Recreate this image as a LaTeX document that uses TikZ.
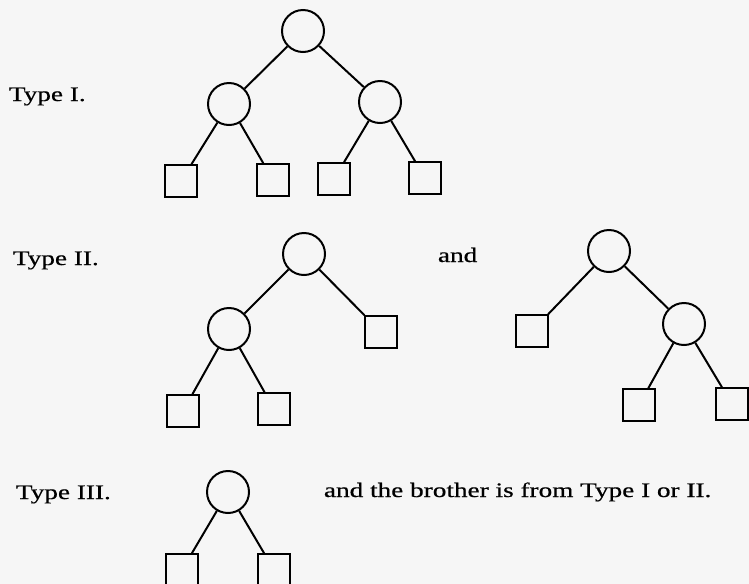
\documentclass[tikz,border=0pt]{standalone}
\usepackage{fontspec}
\setmainfont{Liberation Serif}[FakeStretch=1.32, FakeBold=0.6]
\usepackage{tikz}
\usetikzlibrary{positioning}
\definecolor{paper}{RGB}{246,246,246}
\tikzset{
    knot/.style={circle, draw, line width=1.7pt, minimum size=1.26cm, inner sep=0pt},
    leafbox/.style={rectangle, draw, line width=1.7pt, minimum size=0.95cm, inner sep=0pt},
    label text/.style={anchor=base west, inner sep=0pt, font=\fontsize{17.6}{21}\selectfont}
}

\begin{document}
\begin{tikzpicture}[x=0.03cm, y=-0.03cm, line width=1.7pt]
            \fill [paper] (0, 0) rectangle (749, 584);
            \useasboundingbox (0, 0) rectangle (749, 584);

            % Type I
            \node [label text] (t1) at (8, 101) {Type I.};
            \node [knot] (a) at (303, 31) {};
            \node [knot] (al) at (229, 104) {};
            \node [knot] (ar) at (380, 102) {};
            \node [leafbox] (a1) at (181, 181) {};
            \node [leafbox] (a2) at (273, 180) {};
            \node [leafbox] (a3) at (334, 179) {};
            \node [leafbox] (a4) at (425, 178) {};
            \draw (a) -- (al) (a) -- (ar)
                  (al) -- (a1) (al) -- (a2)
                  (ar) -- (a3) (ar) -- (a4);

            % Type II
            \node [label text] (t2) at (12, 265) {Type II.};
            \node [label text] (and1) at (437, 262) {and};
            \node [knot] (b) at (304, 254) {};
            \node [knot] (bl) at (229, 329) {};
            \node [leafbox] (br) at (381, 332) {};
            \node [leafbox] (b1) at (183, 411) {};
            \node [leafbox] (b2) at (274, 409) {};
            \draw (b) -- (bl) (b) -- (br)
                  (bl) -- (b1) (bl) -- (b2);

            \node [knot] (c) at (609, 251) {};
            \node [leafbox] (cl) at (532, 331) {};
            \node [knot] (cr) at (684, 324) {};
            \node [leafbox] (c1) at (639, 405) {};
            \node [leafbox] (c2) at (732, 404) {};
            \draw (c) -- (cl) (c) -- (cr)
                  (cr) -- (c1) (cr) -- (c2);

            % Type III
            \node [label text] (t3) at (15, 499) {Type III.};
            \node [label text] (and2) at (323, 497) {and the brother is from Type I or II.};
            \node [knot] (d) at (228, 492) {};
            \node [leafbox] (d1) at (182, 570) {};
            \node [leafbox] (d2) at (274, 570) {};
            \draw (d) -- (d1) (d) -- (d2);
        \end{tikzpicture}
\end{document}
